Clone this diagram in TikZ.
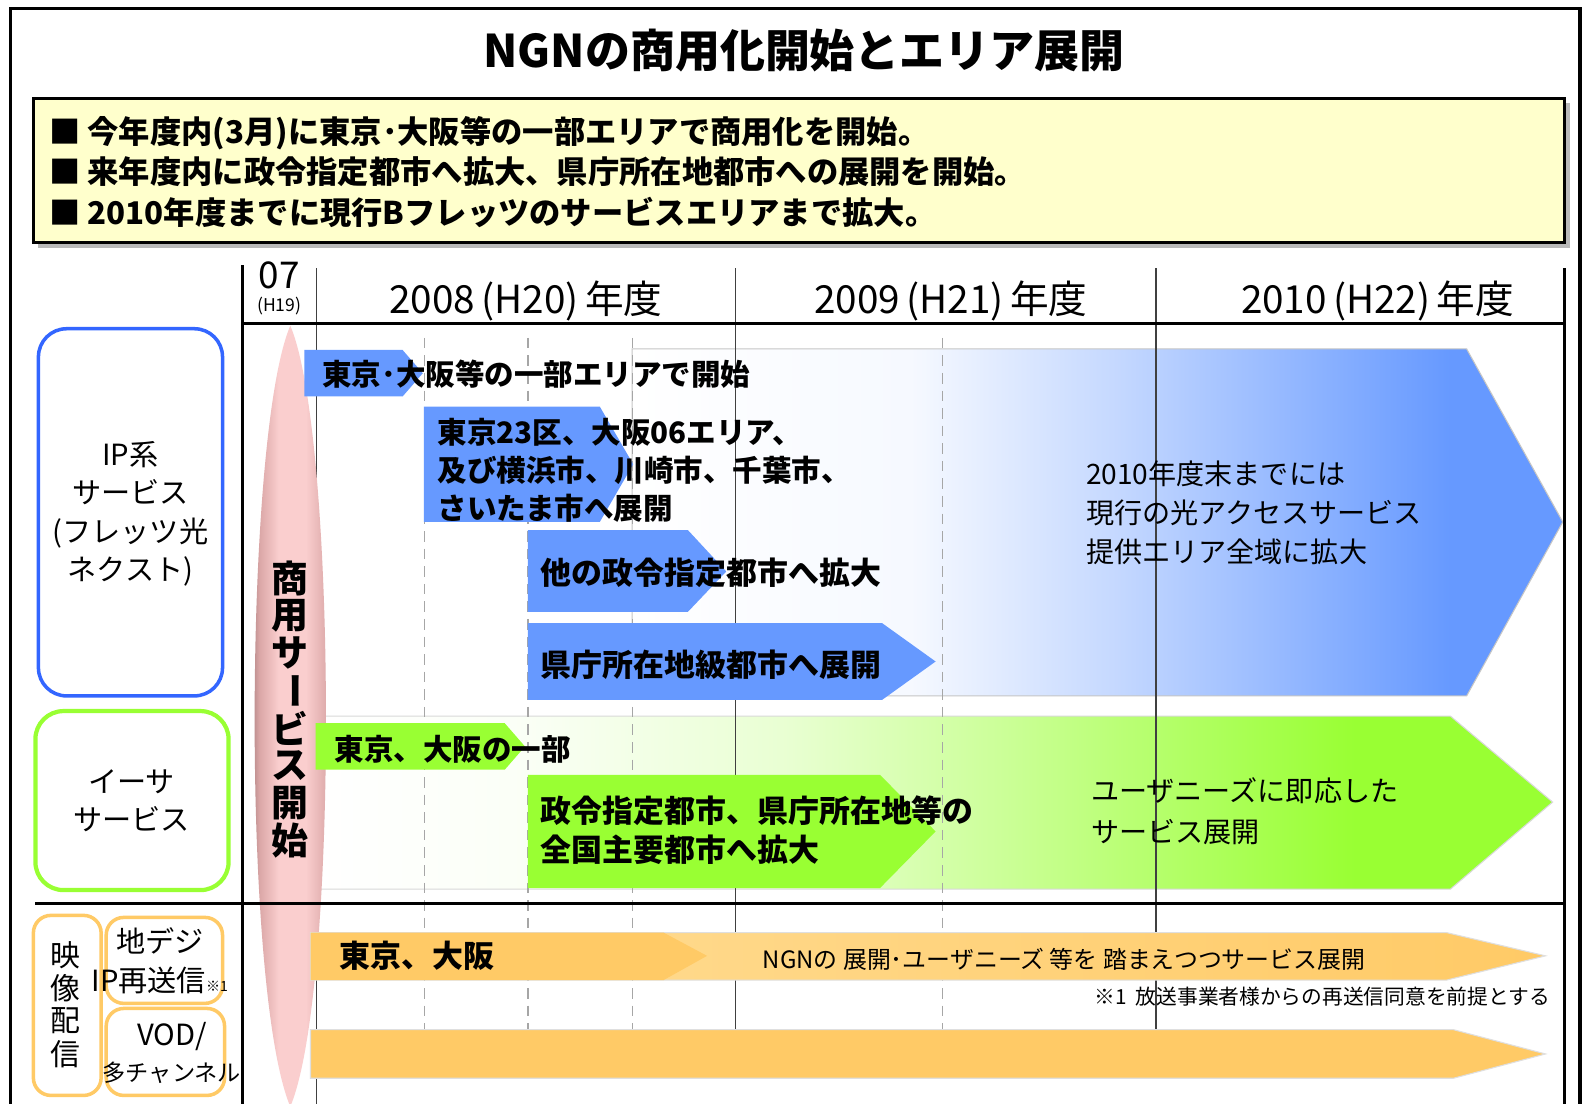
\documentclass[tikz,border=0pt]{standalone}
\usepackage{fontspec}
\setmainfont{Noto Sans CJK JP}
\usepackage{graphicx}
\usetikzlibrary{positioning}

\definecolor{ipblue}{RGB}{102,153,255}
\definecolor{ipedge}{RGB}{51,102,255}
\definecolor{eisagreen}{RGB}{153,255,51}
\definecolor{vidorange}{RGB}{255,202,102}
\definecolor{vidlight}{RGB}{255,222,152}
\definecolor{memoyellow}{RGB}{255,255,204}
\definecolor{spinedge}{RGB}{125,92,92}
\definecolor{spinmid}{RGB}{218,166,166}
\definecolor{spinpink}{RGB}{250,206,206}
\colorlet{ipfadeA}{white!94!ipblue}
\colorlet{ipfadeB}{white!62!ipblue}
\colorlet{eisafadeA}{white!96!eisagreen}
\colorlet{eisafadeB}{white!78!eisagreen}
\colorlet{eisafadeC}{white!52!eisagreen}

% fades for the two wide arrows and the pink spindle
\pgfdeclarehorizontalshading{ipfade}{100bp}{color(0bp)=(white); color(25bp)=(white);
  color(40bp)=(ipfadeA); color(51bp)=(ipfadeB); color(69bp)=(ipblue); color(100bp)=(ipblue)}
\pgfdeclarehorizontalshading{eisafade}{100bp}{color(0bp)=(white); color(25bp)=(white);
  color(33bp)=(eisafadeA); color(44bp)=(eisafadeB); color(52bp)=(eisafadeC);
  color(67bp)=(eisagreen); color(100bp)=(eisagreen)}
\pgfdeclarehorizontalshading{spinfade}{100bp}{color(0bp)=(spinedge); color(25bp)=(spinedge);
  color(34bp)=(spinmid); color(44bp)=(spinpink); color(58bp)=(spinpink);
  color(70bp)=(spinmid); color(75bp)=(spinedge); color(100bp)=(spinedge)}

\begin{document}
\begin{tikzpicture}[x=0.10115mm, y=-0.10115mm,
    frameline/.style={line width=0.9pt},
    gridline/.style={line width=0.4pt, draw=black!75},
    quarterline/.style={draw=gray!70, line width=0.35pt, dash pattern=on 3pt off 2pt},
    svcbox/.style={line width=1pt, rounded corners=8pt, fill=white},
    vidbox/.style={line width=1pt, rounded corners=5pt, draw=vidorange, fill=white},
    yearfont/.style={font=\fontsize{11}{13}\selectfont},
    labelfont/.style={font=\fontsize{8.3}{10.9}\selectfont, align=center},
    tagfont/.style={font=\bfseries\fontsize{8.4}{10.7}\selectfont, align=left, anchor=west, inner xsep=0pt},
    plainfont/.style={font=\fontsize{8}{11}\selectfont, align=left, anchor=west, inner xsep=0pt}]

    \useasboundingbox (0,0) rectangle (1568,1091);
    \fill[white] (0,0) rectangle (1568,1091);
    \draw[frameline] (10,8) rectangle (1562,1110);

    % title and summary
    \node (title) at (795,50) {\bfseries\fontsize{12.8}{15}\selectfont NGNの商用化開始とエリア展開};
    \fill[gray!55] (38,102) rectangle (1552,245);
    \draw[line width=0.8pt, fill=memoyellow] (33,97) rectangle (1547,240);
    \node (summary) [anchor=west, align=left, inner xsep=0pt, font=\bfseries\fontsize{8.9}{11.5}\selectfont] at (48,170)
        {■ 今年度内(3月)に東京･大阪等の一部エリアで商用化を開始。\\
         ■ 来年度内に政令指定都市へ拡大、県庁所在地都市への展開を開始。\\
         ■ 2010年度までに現行Bフレッツのサービスエリアまで拡大。};

    % wide arrows
    \draw[draw=gray!45, line width=0.3pt, shading=ipfade]
        (625,345) -- (1450,345) -- (1545,516) -- (1450,688) -- (625,688) -- cycle;
    \draw[draw=gray!30, line width=0.3pt, shading=eisafade]
        (313,708) -- (1434,708) -- (1535,793) -- (1434,879) -- (313,879) -- cycle;

    % time grid
    \foreach \qx in {420,522,625,932}
        \draw[quarterline] (\qx,334) -- (\qx,1030);
    \draw[gridline] (313,265) -- (313,1091);
    \draw[gridline] (727,265) -- (727,1066);
    \draw[gridline] (1143,265) -- (1143,1066);
    \draw[frameline] (240,262) -- (240,1091);
    \draw[frameline] (1547,265) -- (1547,1091);
    \draw[frameline] (240,320) -- (1547,320);

    \node (y07) [font=\fontsize{10.5}{12}\selectfont] at (276,272) {07};
    \node (h19) [font=\fontsize{5}{6}\selectfont] at (276,303) {(H19)};
    \node (y2008) [yearfont] at (520,298) {2008\,(H20)\,年度};
    \node (y2009) [yearfont] at (940,298) {2009\,(H21)\,年度};
    \node (y2010) [yearfont] at (1362,298) {2010\,(H22)\,年度};

    % start of commercial service
    \shade[shading=spinfade] (287,322) .. controls (333,430) and (335,980) .. (287,1094)
        .. controls (239,980) and (241,430) .. (287,322) -- cycle;
    \foreach \ch [count=\i] in {商,用,サ,{\rotatebox{-90}{ー}},ビ,ス,開,始}
        \node (svc\i) [font=\bfseries\fontsize{10.5}{12}\selectfont] at (287,535+37*\i) {\ch};
    \draw[frameline] (35,893) -- (1547,893);

    % IP services
    \fill[ipblue] (301,346) -- (398,346) -- (418,369) -- (398,392) -- (301,392) -- cycle;
    \fill[ipblue] (419,402) -- (593,402) -- (626,459) -- (593,516) -- (419,516) -- cycle;
    \fill[ipblue] (522,524) -- (680,524) -- (718,565) -- (680,605) -- (522,605) -- cycle;
    \fill[ipblue] (522,616) -- (872,616) -- (925,654) -- (872,692) -- (522,692) -- cycle;
    \node (ipstart) [tagfont] at (318,370) {東京･大阪等の一部エリアで開始};
    \node (ipcities) [tagfont] at (432,465) {東京23区、大阪06エリア、\\及び横浜市、川崎市、千葉市、\\さいたま市へ展開};
    \node (ipdesig) [tagfont, font=\bfseries\fontsize{8.8}{10.7}\selectfont] at (534,566) {他の政令指定都市へ拡大};
    \node (ippref) [tagfont, font=\bfseries\fontsize{8.8}{10.7}\selectfont] at (534,657) {県庁所在地級都市へ展開};
    \node (ipgoal) [plainfont, font=\fontsize{8}{11.1}\selectfont] at (1073,507)
        {2010年度末までには\\現行の光アクセスサービス\\提供エリア全域に拡大};

    % Ethernet services
    \fill[eisagreen] (312,715) -- (499,715) -- (519,738) -- (499,761) -- (312,761) -- cycle;
    \fill[eisagreen] (522,766) -- (870,766) -- (925,822) -- (870,878) -- (522,878) -- cycle;
    \node (eisastart) [tagfont] at (330,741) {東京、大阪の一部};
    \node (eisamajor) [tagfont, font=\bfseries\fontsize{8.8}{11}\selectfont] at (534,821)
        {政令指定都市、県庁所在地等の\\全国主要都市へ拡大};
    \node (eisagoal) [plainfont, font=\fontsize{8}{11.5}\selectfont] at (1078,802)
        {ユーザニーズに即応した\\サービス展開};

    % video delivery
    \draw[draw=gray!25, line width=0.3pt, left color=vidlight, right color=vidorange]
        (307,922) -- (1430,922) -- (1528,945) -- (1430,969) -- (307,969) -- cycle;
    \fill[vidorange] (307,922) -- (656,922) -- (699,945) -- (656,969) -- (307,969) -- cycle;
    \draw[draw=gray!25, line width=0.3pt, fill=vidorange]
        (307,1018) -- (1437,1018) -- (1528,1042) -- (1437,1066) -- (307,1066) -- cycle;
    \node (vidstart) [tagfont, font=\bfseries\fontsize{8.8}{10.7}\selectfont] at (335,945) {東京、大阪};
    \node (vidplan) [font=\fontsize{6.8}{8}\selectfont] at (1052,948)
        {NGNの 展開･ユーザニーズ 等を 踏まえつつサービス展開};
    \node (vidnote) [anchor=east, inner xsep=0pt, font=\fontsize{5.9}{7}\selectfont] at (1533,985)
        {※1\ \ 放送事業者様からの再送信同意を前提とする};

    % service labels
    \draw[svcbox, draw=ipedge] (38,325) rectangle (220,688);
    \node (ipsvc) [labelfont] at (129,508) {IP系\\サービス\\(フレッツ光\\ネクスト)};
    \draw[svcbox, draw=eisagreen, line width=1.2pt] (35,703) rectangle (226,880);
    \node (eisasvc) [labelfont] at (130,792) {イーサ\\サービス};
    \draw[vidbox] (33,905) rectangle (100,1083);
    \foreach \ch [count=\i] in {映,像,配,信}
        \node (vid\i) [font=\fontsize{8.5}{10}\selectfont] at (65,912+32.5*\i) {\ch};
    \draw[vidbox] (105,907) rectangle (220,992);
    \node (digi) [labelfont] at (158,950)
        {地デジ\\IP再送信{\fontsize{4}{4}\selectfont ※1}};
    \draw[vidbox] (105,997) rectangle (222,1083);
    \node (vod) [labelfont, font=\fontsize{6.6}{10}\selectfont] at (170,1041)
        {{\fontsize{8.3}{10}\selectfont VOD/}\\多チャンネル};
\end{tikzpicture}
\end{document}
